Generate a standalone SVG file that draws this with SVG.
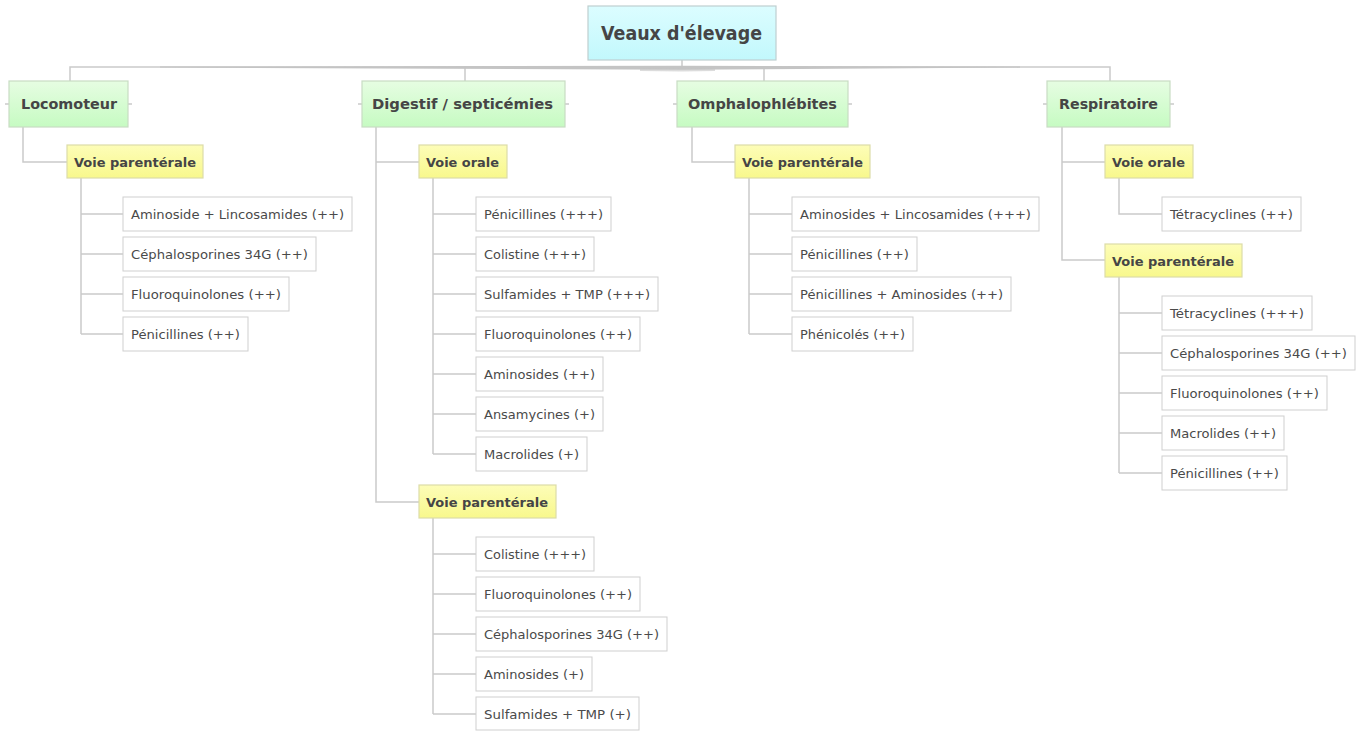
<svg xmlns="http://www.w3.org/2000/svg" width="1369" height="731" viewBox="0 0 1369 731">
<defs>
<linearGradient id="gRoot" x1="0" y1="0" x2="0" y2="1"><stop offset="0" stop-color="#dcfdff"/><stop offset="1" stop-color="#c2f8fc"/></linearGradient>
<linearGradient id="gGreen" x1="0" y1="0" x2="0" y2="1"><stop offset="0" stop-color="#e6fde2"/><stop offset="1" stop-color="#c6fbc2"/></linearGradient>
<linearGradient id="gYellow" x1="0" y1="0" x2="0" y2="1"><stop offset="0" stop-color="#fdfdb8"/><stop offset="1" stop-color="#f8f88c"/></linearGradient>
</defs>
<style>
.root rect{fill:url(#gRoot);stroke:#bfcfd0;stroke-width:1.2}
.l1 rect{fill:url(#gGreen);stroke:#c8dcc4;stroke-width:1.2}
.l2 rect{fill:url(#gYellow);stroke:#dcdca8;stroke-width:1.2}
.l3 rect{fill:#ffffff;stroke:#cfcfcf;stroke-width:1}
text{font-family:"DejaVu Sans","Liberation Sans",sans-serif;fill:#454545}
.root text{font-size:19px;font-weight:bold}
.l1 text{font-size:14px;font-weight:bold}
.l2 text{font-size:13px;font-weight:bold}
.l3 text{font-size:12.5px;fill:#4a4a4a}
#connectors path,#connectors line{fill:none;stroke:#cacaca;stroke-width:1.5}
#connectors .bus{fill:#c4c4c4;stroke:none}
</style>
<rect width="1369" height="731" fill="#ffffff"/>

<g id="connectors">
<line x1="682" y1="60" x2="682" y2="67"/>
<path d="M70 81 V67 H1110 V81"/>
<line x1="465" y1="67" x2="465" y2="81"/>
<line x1="764" y1="67" x2="764" y2="81"/>
<polygon class="bus" points="160,66.6 682,65.8 1020,66.6 1020,67.6 682,69.8 160,67.6"/>
<polygon class="bus" points="640,69 682,68.5 715,69 715,71 682,71.5 640,71" opacity="0.6"/>
<!-- stubs -->
<line x1="5" y1="104" x2="9" y2="104"/><line x1="128" y1="104" x2="132" y2="104"/>
<line x1="358" y1="104" x2="362" y2="104"/><line x1="565" y1="104" x2="569" y2="104"/>
<line x1="673" y1="104" x2="677" y2="104"/><line x1="848" y1="104" x2="852" y2="104"/>
<line x1="1043" y1="104" x2="1047" y2="104"/><line x1="1170" y1="104" x2="1174" y2="104"/>
<!-- Locomoteur -->
<path d="M23 127 V162 H67"/>
<path d="M81 178 V334"/>
<path d="M81 214 H123 M81 254 H123 M81 294 H123 M81 334 H123"/>
<!-- Digestif -->
<path d="M376 127 V502 H419 M376 162 H419"/>
<path d="M433 178 V454"/>
<path d="M433 214 H476 M433 254 H476 M433 294 H476 M433 334 H476 M433 374 H476 M433 414 H476 M433 454 H476"/>
<path d="M433 518 V714"/>
<path d="M433 554 H476 M433 594 H476 M433 634 H476 M433 674 H476 M433 714 H476"/>
<!-- Omphalo -->
<path d="M692 127 V162 H735"/>
<path d="M749 178 V334"/>
<path d="M749 214 H792 M749 254 H792 M749 294 H792 M749 334 H792"/>
<!-- Respiratoire -->
<path d="M1062 127 V260 H1105 M1062 162 H1105"/>
<path d="M1119 178 V214 H1162"/>
<path d="M1119 277 V473"/>
<path d="M1119 313 H1162 M1119 353 H1162 M1119 393 H1162 M1119 433 H1162 M1119 473 H1162"/>
</g>

<g id="root" class="root"><rect x="588" y="6" width="188" height="54"/><text x="601" y="39.5" textLength="161" lengthAdjust="spacingAndGlyphs">Veaux d'élevage</text></g>

<g id="locomoteur" class="l1"><rect x="9" y="81" width="119" height="46"/><text x="21" y="109" textLength="96" lengthAdjust="spacingAndGlyphs">Locomoteur</text></g>
<g id="digestif" class="l1"><rect x="362" y="81" width="203" height="46"/><text x="372" y="109" textLength="181" lengthAdjust="spacingAndGlyphs">Digestif / septicémies</text></g>
<g id="omphalo" class="l1"><rect x="677" y="81" width="171" height="46"/><text x="688" y="109" textLength="149" lengthAdjust="spacingAndGlyphs">Omphalophlébites</text></g>
<g id="respiratoire" class="l1"><rect x="1047" y="81" width="123" height="46"/><text x="1059" y="109" textLength="99" lengthAdjust="spacingAndGlyphs">Respiratoire</text></g>

<g id="loco-par" class="l2"><rect x="67" y="145" width="136" height="33"/><text x="74" y="167" textLength="122" lengthAdjust="spacingAndGlyphs">Voie parentérale</text></g>
<g id="dig-orale" class="l2"><rect x="419" y="145" width="88" height="33"/><text x="426" y="167" textLength="73" lengthAdjust="spacingAndGlyphs">Voie orale</text></g>
<g id="dig-par" class="l2"><rect x="419" y="485" width="137" height="33"/><text x="426" y="507" textLength="122" lengthAdjust="spacingAndGlyphs">Voie parentérale</text></g>
<g id="omph-par" class="l2"><rect x="735" y="145" width="135" height="33"/><text x="742" y="167" textLength="121" lengthAdjust="spacingAndGlyphs">Voie parentérale</text></g>
<g id="resp-orale" class="l2"><rect x="1105" y="145" width="88" height="33"/><text x="1112" y="167" textLength="73" lengthAdjust="spacingAndGlyphs">Voie orale</text></g>
<g id="resp-par" class="l2"><rect x="1105" y="244" width="137" height="33"/><text x="1112" y="266" textLength="122" lengthAdjust="spacingAndGlyphs">Voie parentérale</text></g>

<!-- Locomoteur leaves -->
<g id="lp1" class="l3"><rect x="123" y="197" width="229" height="34"/><text x="131" y="218.5" textLength="213" lengthAdjust="spacingAndGlyphs">Aminoside + Lincosamides (++)</text></g>
<g id="lp2" class="l3"><rect x="123" y="237" width="193" height="34"/><text x="131" y="258.5" textLength="177" lengthAdjust="spacingAndGlyphs">Céphalosporines 34G (++)</text></g>
<g id="lp3" class="l3"><rect x="123" y="277" width="166" height="34"/><text x="131" y="298.5" textLength="150" lengthAdjust="spacingAndGlyphs">Fluoroquinolones (++)</text></g>
<g id="lp4" class="l3"><rect x="123" y="317" width="125" height="34"/><text x="131" y="338.5" textLength="109" lengthAdjust="spacingAndGlyphs">Pénicillines (++)</text></g>

<!-- Digestif orale leaves -->
<g id="do1" class="l3"><rect x="476" y="197" width="135" height="34"/><text x="484" y="218.5" textLength="119" lengthAdjust="spacingAndGlyphs">Pénicillines (+++)</text></g>
<g id="do2" class="l3"><rect x="476" y="237" width="118" height="34"/><text x="484" y="258.5" textLength="102" lengthAdjust="spacingAndGlyphs">Colistine (+++)</text></g>
<g id="do3" class="l3"><rect x="476" y="277" width="182" height="34"/><text x="484" y="298.5" textLength="166" lengthAdjust="spacingAndGlyphs">Sulfamides + TMP (+++)</text></g>
<g id="do4" class="l3"><rect x="476" y="317" width="164" height="34"/><text x="484" y="338.5" textLength="148" lengthAdjust="spacingAndGlyphs">Fluoroquinolones (++)</text></g>
<g id="do5" class="l3"><rect x="476" y="357" width="127" height="34"/><text x="484" y="378.5" textLength="111" lengthAdjust="spacingAndGlyphs">Aminosides (++)</text></g>
<g id="do6" class="l3"><rect x="476" y="397" width="127" height="34"/><text x="484" y="418.5" textLength="111" lengthAdjust="spacingAndGlyphs">Ansamycines (+)</text></g>
<g id="do7" class="l3"><rect x="476" y="437" width="111" height="34"/><text x="484" y="458.5" textLength="95" lengthAdjust="spacingAndGlyphs">Macrolides (+)</text></g>

<!-- Digestif parenterale leaves -->
<g id="dp1" class="l3"><rect x="476" y="537" width="118" height="34"/><text x="484" y="558.5" textLength="102" lengthAdjust="spacingAndGlyphs">Colistine (+++)</text></g>
<g id="dp2" class="l3"><rect x="476" y="577" width="164" height="34"/><text x="484" y="598.5" textLength="148" lengthAdjust="spacingAndGlyphs">Fluoroquinolones (++)</text></g>
<g id="dp3" class="l3"><rect x="476" y="617" width="191" height="34"/><text x="484" y="638.5" textLength="175" lengthAdjust="spacingAndGlyphs">Céphalosporines 34G (++)</text></g>
<g id="dp4" class="l3"><rect x="476" y="657" width="116" height="34"/><text x="484" y="678.5" textLength="100" lengthAdjust="spacingAndGlyphs">Aminosides (+)</text></g>
<g id="dp5" class="l3"><rect x="476" y="697" width="163" height="33"/><text x="484" y="718.5" textLength="147" lengthAdjust="spacingAndGlyphs">Sulfamides + TMP (+)</text></g>

<!-- Omphalo leaves -->
<g id="op1" class="l3"><rect x="792" y="197" width="247" height="34"/><text x="800" y="218.5" textLength="231" lengthAdjust="spacingAndGlyphs">Aminosides + Lincosamides (+++)</text></g>
<g id="op2" class="l3"><rect x="792" y="237" width="125" height="34"/><text x="800" y="258.5" textLength="109" lengthAdjust="spacingAndGlyphs">Pénicillines (++)</text></g>
<g id="op3" class="l3"><rect x="792" y="277" width="219" height="34"/><text x="800" y="298.5" textLength="203" lengthAdjust="spacingAndGlyphs">Pénicillines + Aminosides (++)</text></g>
<g id="op4" class="l3"><rect x="792" y="317" width="121" height="34"/><text x="800" y="338.5" textLength="105" lengthAdjust="spacingAndGlyphs">Phénicolés (++)</text></g>

<!-- Respiratoire leaves -->
<g id="ro1" class="l3"><rect x="1162" y="197" width="139" height="34"/><text x="1170" y="218.5" textLength="123" lengthAdjust="spacingAndGlyphs">Tétracyclines (++)</text></g>
<g id="rp1" class="l3"><rect x="1162" y="296" width="150" height="34"/><text x="1170" y="317.5" textLength="134" lengthAdjust="spacingAndGlyphs">Tétracyclines (+++)</text></g>
<g id="rp2" class="l3"><rect x="1162" y="336" width="193" height="34"/><text x="1170" y="357.5" textLength="177" lengthAdjust="spacingAndGlyphs">Céphalosporines 34G (++)</text></g>
<g id="rp3" class="l3"><rect x="1162" y="376" width="165" height="34"/><text x="1170" y="397.5" textLength="149" lengthAdjust="spacingAndGlyphs">Fluoroquinolones (++)</text></g>
<g id="rp4" class="l3"><rect x="1162" y="416" width="122" height="34"/><text x="1170" y="437.5" textLength="106" lengthAdjust="spacingAndGlyphs">Macrolides (++)</text></g>
<g id="rp5" class="l3"><rect x="1162" y="456" width="125" height="34"/><text x="1170" y="477.5" textLength="109" lengthAdjust="spacingAndGlyphs">Pénicillines (++)</text></g>
</svg>
